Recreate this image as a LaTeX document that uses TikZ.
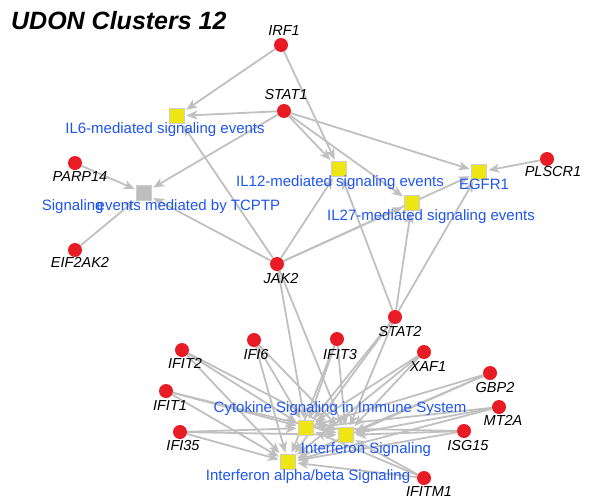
\documentclass[tikz,border=0pt]{standalone}
\usepackage{fontspec}
\setmainfont{Liberation Sans}
\usetikzlibrary{arrows.meta,backgrounds}

\definecolor{genered}{RGB}{232,28,36}
\definecolor{pwyellow}{RGB}{238,230,18}
\definecolor{pwgray}{RGB}{190,190,190}
\definecolor{boxline}{RGB}{205,205,205}
\definecolor{pwblue}{RGB}{30,85,240}
\definecolor{edgegray}{RGB}{192,192,192}

\tikzset{
  gene/.style={circle,fill=genered,minimum size=14pt,inner sep=0pt},
  pway/.style={rectangle,fill=pwyellow,draw=boxline,line width=0.8pt,minimum size=15pt,inner sep=0pt},
  gname/.style={font=\fontsize{14.5}{17}\selectfont\itshape,inner sep=0pt,anchor=mid},
  pname/.style={font=\fontsize{15}{18}\selectfont,text=pwblue,inner sep=0pt,anchor=mid},
  link/.style={draw=edgegray,line width=1.8pt,shorten >=1.5pt,-{Stealth[length=11pt,width=9pt,inset=3pt]}}
}

\begin{document}
\begin{tikzpicture}[x=1pt,y=-1pt]
\useasboundingbox (0,0) rectangle (594,501);

\node[anchor=west,inner sep=0pt,font=\fontsize{25}{29}\selectfont\bfseries\itshape] (title) at (11,21) {UDON Clusters 12};

% pathways
\node[pway] (il6) at (177,116) {};
\node[pway,fill=pwgray] (tcptp) at (144,193) {};
\node[pway] (il12) at (339,169) {};
\node[pway] (il27) at (412,203) {};
\node[pway] (egfr) at (479,172) {};
\node[pway] (cyto) at (306,428) {};
\node[pway] (ifn) at (346,435) {};
\node[pway] (ab) at (288,462) {};

% genes
\node[gene] (irf1) at (281,45) {};
\node[gene] (stat1) at (284,111) {};
\node[gene] (parp14) at (75,163) {};
\node[gene] (eif2ak2) at (75,250) {};
\node[gene] (jak2) at (277,264) {};
\node[gene] (plscr1) at (547,159) {};
\node[gene] (stat2) at (395,317) {};
\node[gene] (ifit2) at (182,350) {};
\node[gene] (ifi6) at (254,340) {};
\node[gene] (ifit3) at (337,339) {};
\node[gene] (ifit1) at (166,391) {};
\node[gene] (ifi35) at (180,432) {};
\node[gene] (xaf1) at (424,352) {};
\node[gene] (gbp2) at (490,373) {};
\node[gene] (mt2a) at (499,407) {};
\node[gene] (isg15) at (464,431) {};
\node[gene] (ifitm1) at (424,478) {};

\begin{pgfonlayer}{background}
\draw[link] (irf1) -- (il6);
\draw[link] (irf1) -- (il12);
\foreach \p in {il6,tcptp,il12,il27,egfr} \draw[link] (stat1) -- (\p);
\draw[link] (parp14) -- (tcptp);
\draw[link] (eif2ak2) -- (tcptp);
\foreach \p in {tcptp,il6,il12,il27,egfr,cyto,ifn} \draw[link] (jak2) -- (\p);
\foreach \p in {il12,il27,egfr,cyto,ifn,ab} \draw[link] (stat2) -- (\p);
\draw[link] (plscr1) -- (egfr);
\foreach \g in {ifit2,ifi6,ifit3,ifit1,ifi35,xaf1,gbp2,mt2a,isg15,ifitm1}
  \foreach \p in {cyto,ifn,ab} \draw[link] (\g) -- (\p);
\end{pgfonlayer}

% gene names
\node[gname] (irf1t) at (284,33) {IRF1};
\node[gname] (stat1t) at (286,97) {STAT1};
\node[gname] (parp14t) at (80,179) {PARP14};
\node[gname] (eif2ak2t) at (80,265) {EIF2AK2};
\node[gname] (jak2t) at (281,281) {JAK2};
\node[gname] (plscr1t) at (553,174) {PLSCR1};
\node[gname] (stat2t) at (400,334) {STAT2};
\node[gname] (ifit2t) at (185,366) {IFIT2};
\node[gname] (ifi6t) at (256,357) {IFI6};
\node[gname] (ifit3t) at (340,357) {IFIT3};
\node[gname] (ifit1t) at (170,408) {IFIT1};
\node[gname] (ifi35t) at (183,448) {IFI35};
\node[gname] (xaf1t) at (428,369) {XAF1};
\node[gname] (gbp2t) at (495,390) {GBP2};
\node[gname] (mt2at) at (503,423) {MT2A};
\node[gname] (isg15t) at (468,448) {ISG15};
\node[gname] (ifitm1t) at (429,494) {IFITM1};

% pathway names
\node[pname] (il6t) at (165,131) {IL6-mediated signaling events};
\node[pname] (tcptpt) at (161,208) {Signaling\kern-11pt{} events mediated by TCPTP};
\node[pname] (il12t) at (340,184) {IL12-mediated signaling events};
\node[pname] (il27t) at (431,218) {IL27-mediated signaling events};
\node[pname] (egfrt) at (484,187) {EGFR1};
\node[pname] (cytot) at (340,410) {Cytokine Signaling in Immune System};
\node[pname] (ifnt) at (366,451) {Interferon Signaling};
\node[pname] (abt) at (308,478) {Interferon alpha/beta Signaling};
\end{tikzpicture}
\end{document}
